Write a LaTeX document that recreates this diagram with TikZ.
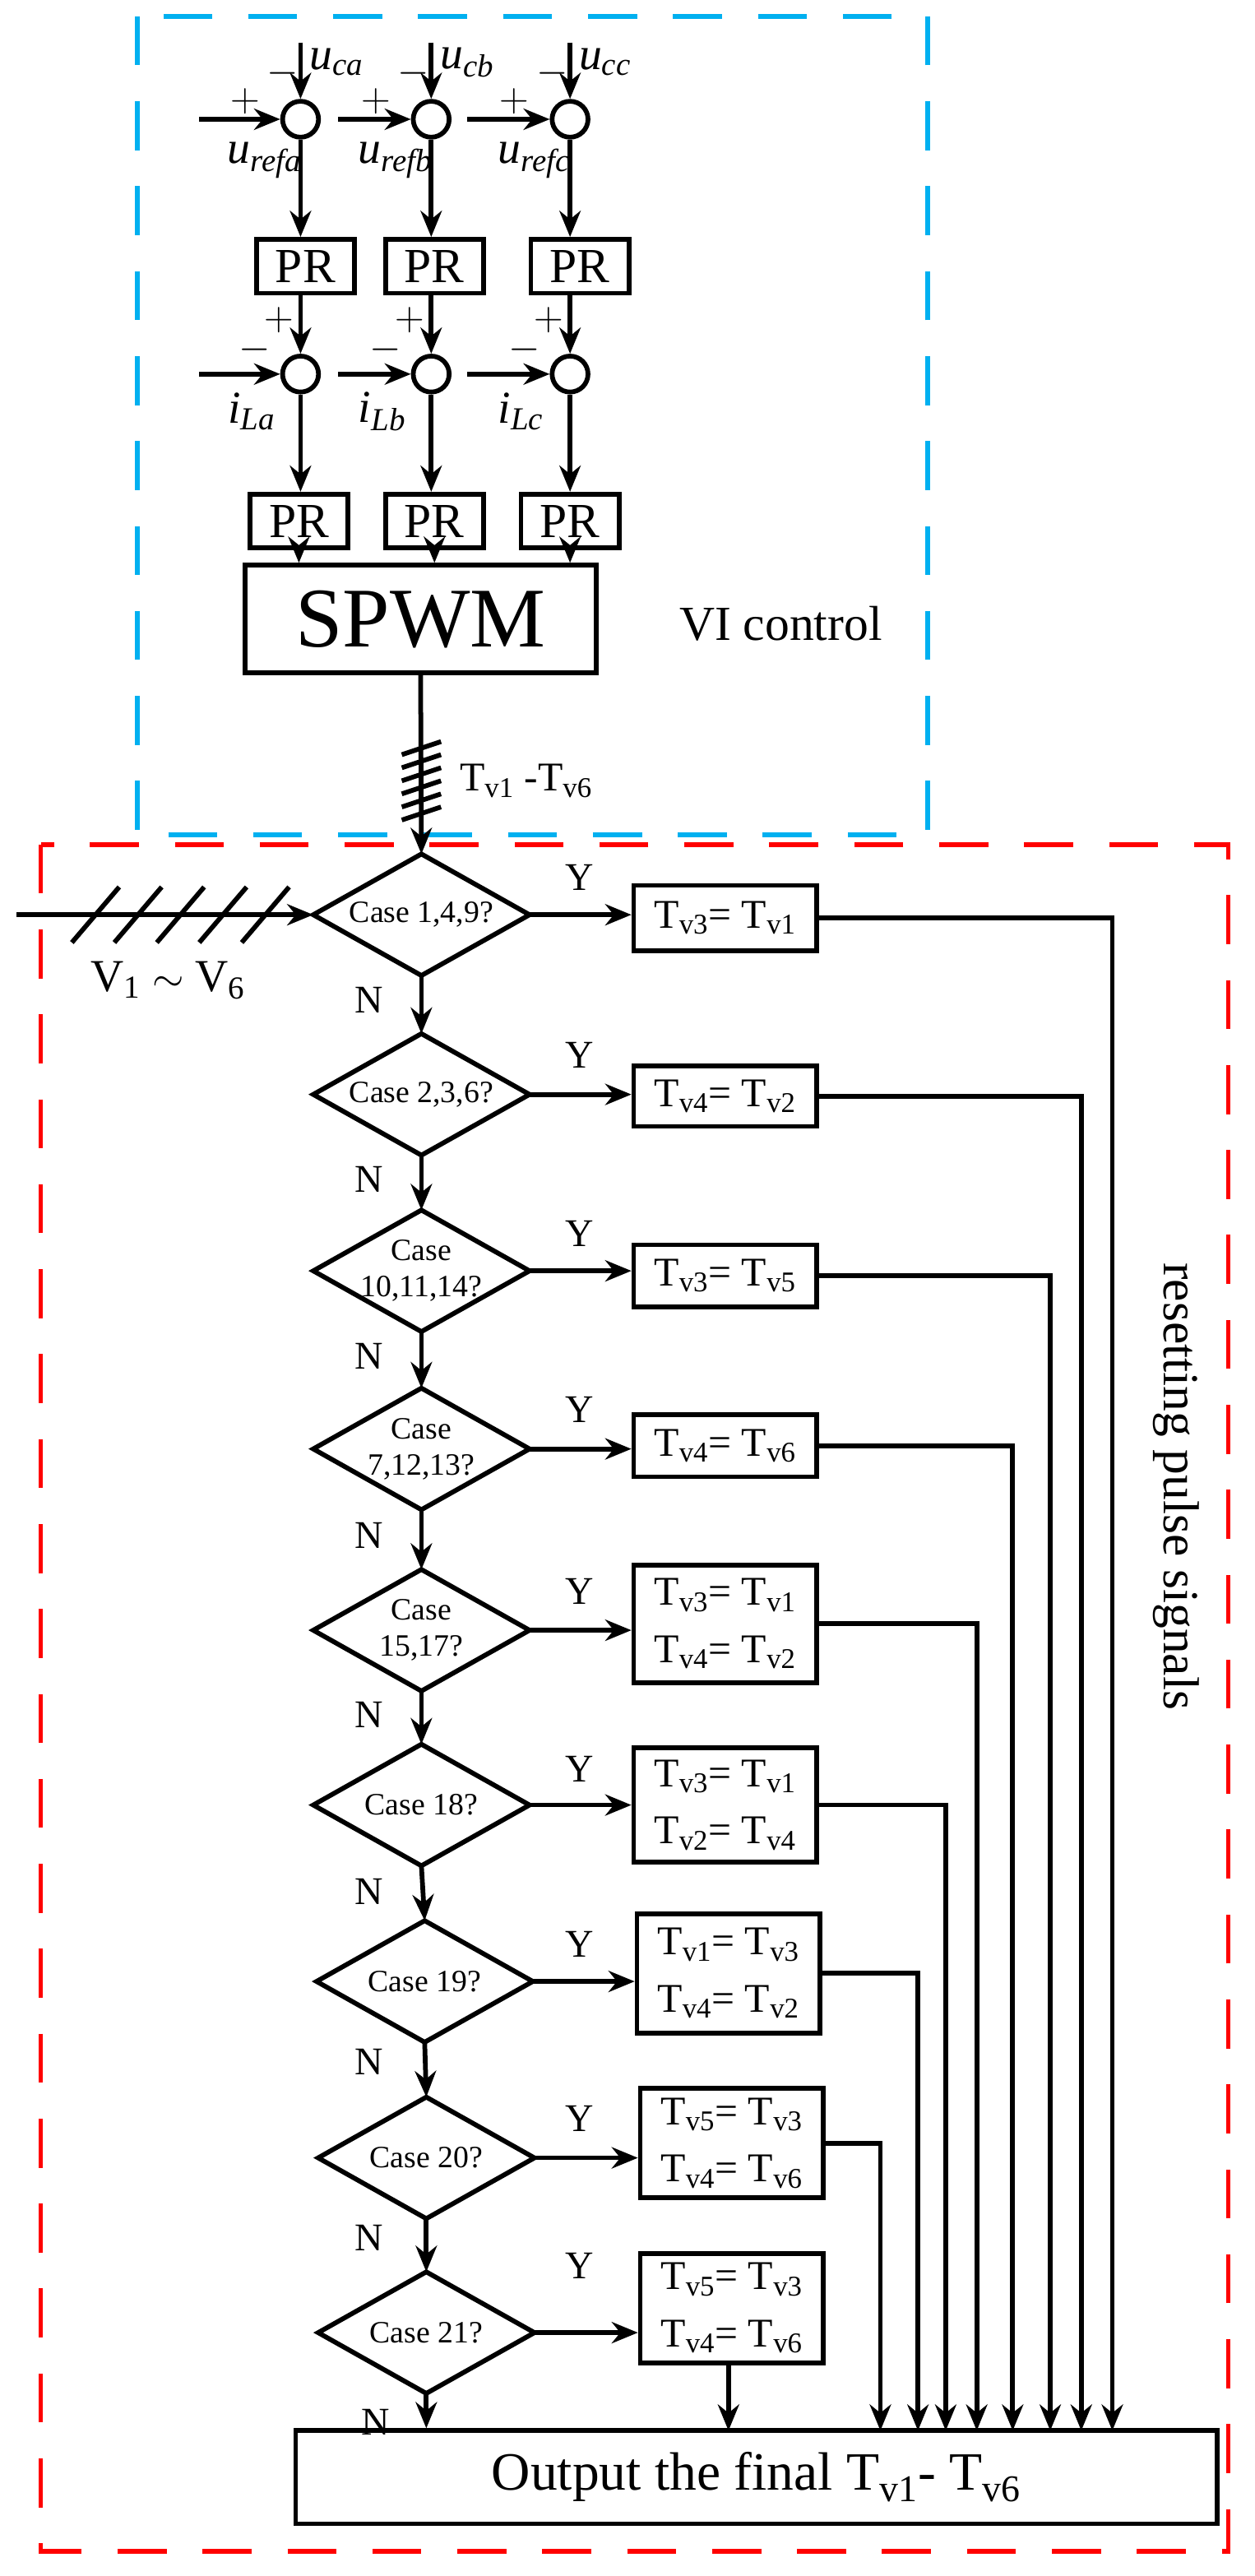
\documentclass[tikz,border=0pt]{standalone}
\usepackage{fontspec}
\setmainfont{Liberation Serif}
\usetikzlibrary{shapes.geometric,arrows.meta}
\newcommand\vsb[1]{\textsubscript{v#1}}
\begin{document}
\begin{tikzpicture}[x=1pt,y=-1pt,
  ln/.style={line width=2.9pt},
  arr/.style={ln,-{Stealth[length=16pt,width=13pt]}},
  sum/.style={circle,draw,line width=2.9pt,minimum size=22pt,inner sep=0},
  pr/.style={draw,line width=2.9pt,minimum width=60pt,minimum height=33pt,inner sep=0,font=\fontsize{30}{30}\selectfont},
  dia/.style={rectangle,minimum width=132pt,minimum height=74pt,inner sep=0,align=center,font=\fontsize{19}{22}\selectfont},
  rb/.style={draw,line width=2.9pt,minimum width=112pt,inner sep=0,align=center,font=\fontsize{25}{35}\selectfont},
  lab/.style={font=\fontsize{24}{24}\selectfont},
  it/.style={font=\fontsize{28}{28}\selectfont\itshape},
  sg/.style={font=\fontsize{24}{24}\selectfont}]
\useasboundingbox (0,0) rectangle (768,1577);
% dashed boxes
\draw[line width=2.8pt,color={rgb,255:red,0;green,176;blue,240},dash pattern=on 30pt off 22pt] (84,10) rectangle (568,511);
\draw[line width=2.8pt,color=red,dash pattern=on 30pt off 22pt] (25,517) rectangle (752,1562);
% sums row 1
\foreach \n/\x/\s/\xl in {a/184/ca/122,b/264/cb/207,c/349/cc/286}{
  \node[sum] (s1\n) at (\x,73) {};
  \coordinate (t\n) at (\x,26);
  \coordinate (l\n) at (\xl,73);
  \draw[arr] (t\n) -- (s1\n.north);
  \draw[arr] (l\n) -- (s1\n.west);
  \node[it,anchor=west] at (\x+2,38) {u\textsubscript{\s}};
  \node[sg] at (\x-11,45) {$-$};
  \node[sg] at (\x-34,62) {$+$};
  \node[it] (ur\n) at (\x-22,98) {u\textsubscript{ref\n}};
}
% PR row 1
\node[pr] (p1a) at (187,163) {PR};
\node[pr] (p1b) at (266,163) {PR};
\node[pr] (p1c) at (355,163) {PR};
\draw[arr] (s1a.south) -- (s1a.south|-p1a.north);
\draw[arr] (s1b.south) -- (s1b.south|-p1b.north);
\draw[arr] (s1c.south) -- (s1c.south|-p1c.north);
% sums row 2
\foreach \n/\x/\xl in {a/184/122,b/264/207,c/349/286}{
  \node[sum] (s2\n) at (\x,229) {};
  \coordinate (m\n) at (\xl,229);
  \draw[arr] (m\n) -- (s2\n.west);
  \draw[arr] (\x,180) -- (s2\n.north);
  \node[sg] at (\x-13,196) {$+$};
  \node[sg] at (\x-28,214) {$-$};
  \node[it] at (\x-30,252) {i\textsubscript{L\n}};
}
% PR row 2
\node[pr] (p2a) at (183,319) {PR};
\node[pr] (p2b) at (266,319) {PR};
\node[pr] (p2c) at (349,319) {PR};
\draw[arr] (s2a.south) -- (s2a.south|-p2a.north);
\draw[arr] (s2b.south) -- (s2b.south|-p2b.north);
\draw[arr] (s2c.south) -- (s2c.south|-p2c.north);
% SPWM
\node[draw,line width=2.9pt,minimum width=215pt,minimum height=66pt,inner sep=0,font=\fontsize{52}{52}\selectfont] (spwm) at (257.5,379) {SPWM};
\draw[arr] (p2a.south) -- (p2a.south|-spwm.north);
\draw[arr] (p2b.south) -- (p2b.south|-spwm.north);
\draw[arr] (p2c.south) -- (p2c.south|-spwm.north);
\node[font=\fontsize{30}{30}\selectfont] at (478,382) {VI control};
% diamonds
\foreach \i/\x/\y/\t in {1/258/560/{Case 1,4,9?},2/258/670/{Case 2,3,6?},3/258/778/{Case\\10,11,14?},4/258/887/{Case\\7,12,13?},5/258/998/{Case\\15,17?},6/258/1105/{Case 18?},7/260/1213/{Case 19?},8/261/1321/{Case 20?},9/261/1428/{Case 21?}}{
  \node[dia] (d\i) at (\x,\y) {\t};
  \draw[ln,line join=miter] (d\i.north) -- (d\i.east) -- (d\i.south) -- (d\i.west) -- cycle;
}
\draw[arr] (spwm.south) -- (d1.north);
\foreach \y in {458,466,474,482,490,498}{\draw[ln] (246,\y+4) -- (270,\y-4);}
\node[font=\fontsize{25}{25}\selectfont,anchor=west] at (278,478) {T\vsb{1} -T\vsb{6}};
% input
\coordinate (vin) at (10,560);
\draw[arr] (vin) -- (d1.west);
\foreach \x in {44,70,96,122,148}{\draw[ln] (\x,577) -- (\x+29,543);}
\node[font=\fontsize{28}{28}\selectfont] at (103,600) {V\textsubscript{1} $\sim$ V\textsubscript{6}};
% N arrows
\foreach \a/\b/\ny in {1/2/612,2/3/722,3/4/830,4/5/940,5/6/1050,6/7/1158,7/8/1262,8/9/1370}{
  \draw[arr] (d\a.south) -- (d\b.north);
  \node[lab] at (226,\ny) {N};
}
% boxes
\node[rb,minimum height=40pt] (r1) at (444,562) {T\vsb{3}= T\vsb{1}};
\node[rb,minimum height=37pt] (r2) at (444,671) {T\vsb{4}= T\vsb{2}};
\node[rb,minimum height=38pt] (r3) at (444,781) {T\vsb{3}= T\vsb{5}};
\node[rb,minimum height=38pt] (r4) at (444,885) {T\vsb{4}= T\vsb{6}};
\node[rb,minimum height=72pt] (r5) at (444,994) {T\vsb{3}= T\vsb{1}\\T\vsb{4}= T\vsb{2}};
\node[rb,minimum height=70pt] (r6) at (444,1105) {T\vsb{3}= T\vsb{1}\\T\vsb{2}= T\vsb{4}};
\node[rb,minimum height=73pt] (r7) at (446,1208) {T\vsb{1}= T\vsb{3}\\T\vsb{4}= T\vsb{2}};
\node[rb,minimum height=67pt] (r8) at (448,1312) {T\vsb{5}= T\vsb{3}\\T\vsb{4}= T\vsb{6}};
\node[rb,minimum height=67pt] (r9) at (448,1413) {T\vsb{5}= T\vsb{3}\\T\vsb{4}= T\vsb{6}};
\foreach \i/\yy in {1/537,2/646,3/755,4/863,5/974,6/1083,7/1190,8/1297,9/1387}{
  \draw[arr] (d\i.east) -- (r\i.west|-d\i.east);
  \node[lab] at (355,\yy) {Y};
}
% output
\node[draw,line width=2.9pt,minimum width=564pt,minimum height=57pt,inner sep=0,font=\fontsize{33}{34}\selectfont] (out) at (463,1516.5) {Output the final T\vsb{1}- T\vsb{6}};
\foreach \i/\x in {1/681,2/662,3/643,4/620,5/598,6/579,7/562,8/539}{
  \coordinate (o\i) at (\x,1488);
  \draw[arr] (r\i.east) -| (o\i);
}
\coordinate (o9) at (446,1488);
\draw[arr] (r9.south-|o9) -- (o9);
\draw[arr] (d9.south) -- (d9.south|-out.north);
\node[lab] at (230,1483) {N};
\node[font=\fontsize{31}{32}\selectfont,rotate=-90] at (720,910) {resetting pulse signals};
\end{tikzpicture}
\end{document}
